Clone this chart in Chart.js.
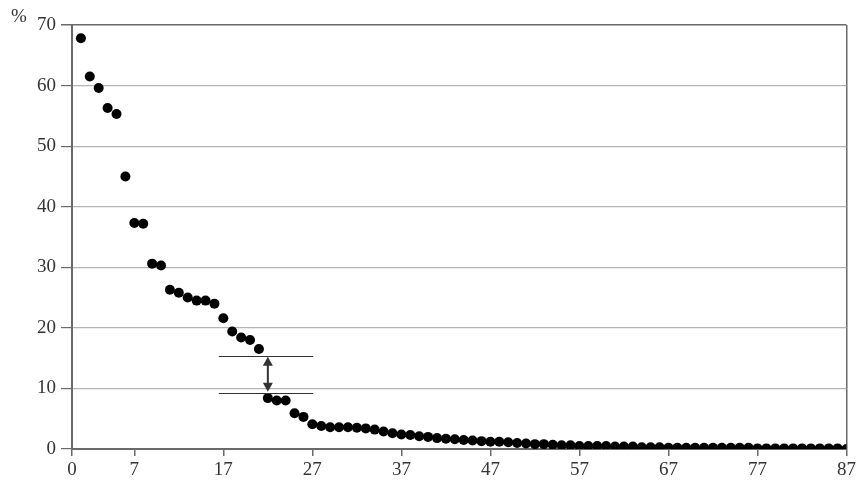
<!DOCTYPE html>
<html>
<head>
<meta charset="utf-8">
<script src="https://cdn.jsdelivr.net/npm/chart.js@4/dist/chart.umd.min.js"></script>
<style>
  html, body { margin: 0; padding: 0; background: #fff; }
  #wrap { width: 859px; height: 483px; position: relative; }
</style>
</head>
<body>
<div id="wrap"><canvas id="c"></canvas></div>
<script>
// Share (%) per rank, ranks 1..87
const ranks = Array.from({ length: 87 }, (_, i) => i + 1);
const shares = [
  67.8, 61.5, 59.6, 56.3, 55.3, 45.0, 37.3, 37.2, 30.6, 30.3,
  26.3, 25.8, 25.0, 24.5, 24.5, 24.0, 21.6, 19.4, 18.4, 18.0,
  16.5, 8.4, 8.0, 8.0, 5.9, 5.3, 4.1, 3.8, 3.6, 3.6,
  3.6, 3.5, 3.4, 3.2, 2.9, 2.6, 2.4, 2.3, 2.1, 2.0,
  1.8, 1.7, 1.6, 1.5, 1.4, 1.3, 1.2, 1.2, 1.1, 1.0,
  0.9, 0.8, 0.8, 0.7, 0.6, 0.6, 0.5, 0.5, 0.5, 0.5,
  0.4, 0.4, 0.4, 0.3, 0.3, 0.3, 0.2, 0.2, 0.2, 0.2,
  0.2, 0.2, 0.2, 0.2, 0.2, 0.2, 0.1, 0.1, 0.1, 0.1,
  0.1, 0.1, 0.1, 0.1, 0.1, 0.1, 0.0
];
const xTicks = [0, 7, 17, 27, 37, 47, 57, 67, 77, 87];
const yTicks = [0, 10, 20, 30, 40, 50, 60, 70];

// gap marker between ranks 21 and 22
const bracketLevels = [15.4, 9.3];
const bracketSpan = [16.5, 27.1];
const arrowRank = 22;

const FONT = { family: "'Liberation Serif', 'DejaVu Serif', serif", size: 19 };
const TEXT = '#333';
const AXIS = '#6a6a6a';
const GRID = '#b4b4b4';

const gapMarker = {
  id: 'gapMarker',
  afterDatasetsDraw(chart) {
    const { ctx, scales: { x, y } } = chart;
    ctx.save();
    ctx.strokeStyle = '#333';
    ctx.lineWidth = 1;
    bracketLevels.forEach(v => {
      const py = Math.round(y.getPixelForValue(v)) + 0.5;
      ctx.beginPath();
      ctx.moveTo(x.getPixelForValue(bracketSpan[0]), py);
      ctx.lineTo(x.getPixelForValue(bracketSpan[1]), py);
      ctx.stroke();
    });
    const ax = x.getPixelForValue(arrowRank);
    const top = y.getPixelForValue(bracketLevels[0]);
    const bot = y.getPixelForValue(bracketLevels[1]);
    const head = 8;
    ctx.lineWidth = 2;
    ctx.beginPath();
    ctx.moveTo(ax, top + head);
    ctx.lineTo(ax, bot - head);
    ctx.stroke();
    ctx.fillStyle = '#333';
    ctx.beginPath();
    ctx.moveTo(ax, top + 1);
    ctx.lineTo(ax - 5, top + head + 2);
    ctx.lineTo(ax + 5, top + head + 2);
    ctx.closePath();
    ctx.fill();
    ctx.beginPath();
    ctx.moveTo(ax, bot - 1);
    ctx.lineTo(ax - 5, bot - head - 2);
    ctx.lineTo(ax + 5, bot - head - 2);
    ctx.closePath();
    ctx.fill();

    // unit label next to the top tick
    ctx.fillStyle = TEXT;
    ctx.font = `${FONT.size}px ${FONT.family}`;
    ctx.textAlign = 'left';
    ctx.textBaseline = 'middle';
    ctx.fillText('%', 11, y.getPixelForValue(70) - 8);
    ctx.restore();
  }
};

new Chart(document.getElementById('c'), {
  type: 'scatter',
  data: {
    datasets: [{
      data: ranks.map((r, i) => ({ x: r, y: shares[i] })),
      backgroundColor: '#000',
      borderColor: '#000',
      pointRadius: 5,
      pointHoverRadius: 5,
      borderWidth: 0,
    }]
  },
  plugins: [gapMarker],
  options: {
    responsive: true,
    maintainAspectRatio: false,
    animation: false,
    layout: { padding: { top: 25, right: 11, left: 0, bottom: 0 } },
    plugins: { legend: { display: false }, tooltip: { enabled: false } },
    scales: {
      x: {
        type: 'linear',
        min: 0,
        max: 87,
        afterBuildTicks: s => { s.ticks = xTicks.map(v => ({ value: v })); },
        afterFit: s => { s.height = 34; },
        grid: {
          color: c => (c.tick && c.tick.value === 87 ? AXIS : 'rgba(0,0,0,0)'),
          lineWidth: 1.5,
          tickColor: AXIS,
          tickLength: 7,
          drawOnChartArea: true,
        },
        border: { color: AXIS, width: 2 },
        ticks: { color: TEXT, font: FONT, padding: 3, maxRotation: 0 },
      },
      y: {
        min: 0,
        max: 70,
        afterBuildTicks: s => { s.ticks = yTicks.map(v => ({ value: v })); },
        afterFit: s => { s.width = 72; },
        grid: {
          color: c => (c.tick && c.tick.value === 70 ? AXIS : GRID),
          lineWidth: c => (c.tick && c.tick.value === 70 ? 1.5 : 1.2),
          tickColor: AXIS,
          tickLength: 11,
        },
        border: { color: AXIS, width: 2 },
        ticks: { color: TEXT, font: FONT, padding: 5 },
      }
    }
  }
});
</script>
</body>
</html>
